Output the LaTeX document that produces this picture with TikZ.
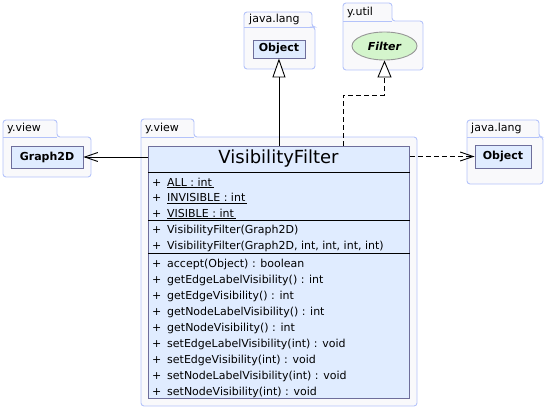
\documentclass[tikz,border=0pt]{standalone}
\usepackage{fontspec}
\setmainfont{DejaVu Sans}
\usepackage{tikz}
\usetikzlibrary{arrows.meta}
\usetikzlibrary{shapes.geometric}

\definecolor{pkgline}{RGB}{180,195,250}
\definecolor{pkgfill}{RGB}{249,249,251}
\definecolor{clsfill}{RGB}{224,236,255}
\definecolor{clsline}{RGB}{110,110,155}
\definecolor{ifcfill}{RGB}{212,245,204}
\definecolor{ifcline}{RGB}{150,150,150}

\begin{document}
\begin{tikzpicture}[
  x=1pt, y=-1pt,
  pkg/.style={draw=pkgline, fill=pkgfill, line width=0.9pt, rounded corners=3pt},
  pkgname/.style={anchor=west, inner sep=0pt, font=\fontsize{11}{13}\selectfont},
  ref/.style={
    rectangle,
    draw=clsline,
    fill=clsfill,
    line width=0.9pt,
    inner sep=0pt,
    font=\fontsize{11}{13}\selectfont\bfseries
  },
  cls/.style={
    rectangle,
    draw=clsline,
    fill=clsfill,
    line width=0.9pt,
    anchor=north west,
    minimum width=261pt,
    minimum height=252pt
  },
  ifc/.style={
    ellipse,
    draw=ifcline,
    fill=ifcfill,
    line width=0.9pt,
    inner sep=0pt,
    minimum width=65pt,
    minimum height=28pt,
    font=\fontsize{11}{13}\selectfont\bfseries\itshape
  },
  member/.style={anchor=base west, inner sep=0pt, font=\fontsize{11}{13}\selectfont},
  sep/.style={line width=0.9pt, black},
  assoc/.style={-{Straight Barb[length=13pt,width=9pt]}, line width=0.9pt},
  dep/.style={-{Straight Barb[length=13pt,width=9pt]}, line width=0.9pt, dash pattern=on 5pt off 3pt},
  gen/.style={-{Triangle[length=19pt,width=13pt,fill=white]}, line width=0.9pt},
  real/.style={-{Triangle[length=17pt,width=14pt,fill=white]}, line width=0.9pt, dash pattern=on 5pt off 3pt}
]
\useasboundingbox (0,0) rectangle (546,409);
% packages
\filldraw[pkg] (141,137) -- (141,119) -- (194,119) -- (194,137) -- (417,137) -- (417,406) -- (141,406) -- cycle;
\draw[pkg] (141,137) -- (194,137);
\node[pkgname] (pview) at (145,128.5) {y.view};
\filldraw[pkg] (244,27) -- (244,12) -- (312,12) -- (312,27) -- (315,27) -- (315,69) -- (244,69) -- cycle;
\draw[pkg] (244,27) -- (312,27);
\node[pkgname] (plangtop) at (249,19.5) {java.lang};
\filldraw[pkg] (343,21) -- (343,3) -- (392,3) -- (392,21) -- (423,21) -- (423,70) -- (343,70) -- cycle;
\draw[pkg] (343,21) -- (392,21);
\node[pkgname] (putil) at (347,12) {y.util};
\filldraw[pkg] (3,137) -- (3,120) -- (57,120) -- (57,137) -- (91,137) -- (91,177) -- (3,177) -- cycle;
\draw[pkg] (3,137) -- (57,137);
\node[pkgname] (pviewleft) at (7,128.5) {y.view};
\filldraw[pkg] (467,137) -- (467,120) -- (539,120) -- (539,137) -- (543,137) -- (543,184) -- (467,184) -- cycle;
\draw[pkg] (467,137) -- (539,137);
\node[pkgname] (plangright) at (471,128.5) {java.lang};
% referenced classes
\node[ref, minimum width=52pt, minimum height=18pt] (objtop) at (279,49) {Object};
\node[ifc] (filter) at (384.5,46) {Filter};
\node[ref, minimum width=72pt, minimum height=22pt] (g2d) at (47,157) {Graph2D};
\node[ref, minimum width=56pt, minimum height=23pt] (objright) at (503,156.5) {Object};
% the class
\node[cls] (vf) at (148,146) {};
\node[font=\fontsize{18}{20}\selectfont, inner sep=0pt] (vfname) at (278.5,159) {VisibilityFilter};
\draw[sep] (vf.west |- 0,172) -- (vf.east |- 0,172);
\draw[sep] (vf.west |- 0,220) -- (vf.east |- 0,220);
\draw[sep] (vf.west |- 0,253) -- (vf.east |- 0,253);
\foreach \txt [count=\i] in {{ALL : int\,}, {INVISIBLE : int\,}, {VISIBLE : int\,}}
  \node[member] (att\i) at (152,170.5+15.5*\i) {\makebox[15pt][l]{+}\underline{\txt}};
\foreach \txt [count=\i] in {{VisibilityFilter(Graph2D)}, {VisibilityFilter(Graph2D, int, int, int, int)}}
  \node[member] (ctor\i) at (152,217+16*\i) {\makebox[15pt][l]{+}\txt};
\foreach \txt [count=\i] in {{accept(Object) : boolean}, {getEdgeLabelVisibility() : int},
    {getEdgeVisibility() : int}, {getNodeLabelVisibility() : int}, {getNodeVisibility() : int},
    {setEdgeLabelVisibility(int) : void}, {setEdgeVisibility(int) : void},
    {setNodeLabelVisibility(int) : void}, {setNodeVisibility(int) : void}}
  \node[member] (meth\i) at (152,251+16*\i) {\makebox[15pt][l]{+}\txt};
% relations
\draw[gen] (vf.north) -- (vf.north |- objtop.south);
\coordinate (kink) at (343,95);
\draw[real] (vf.north -| kink) -- (kink) -| (filter.south);
\draw[assoc] (vf.west |- g2d.east) -- (g2d.east);
\draw[dep] (vf.east |- objright.west) -- (objright.west);
\end{tikzpicture}
\end{document}
